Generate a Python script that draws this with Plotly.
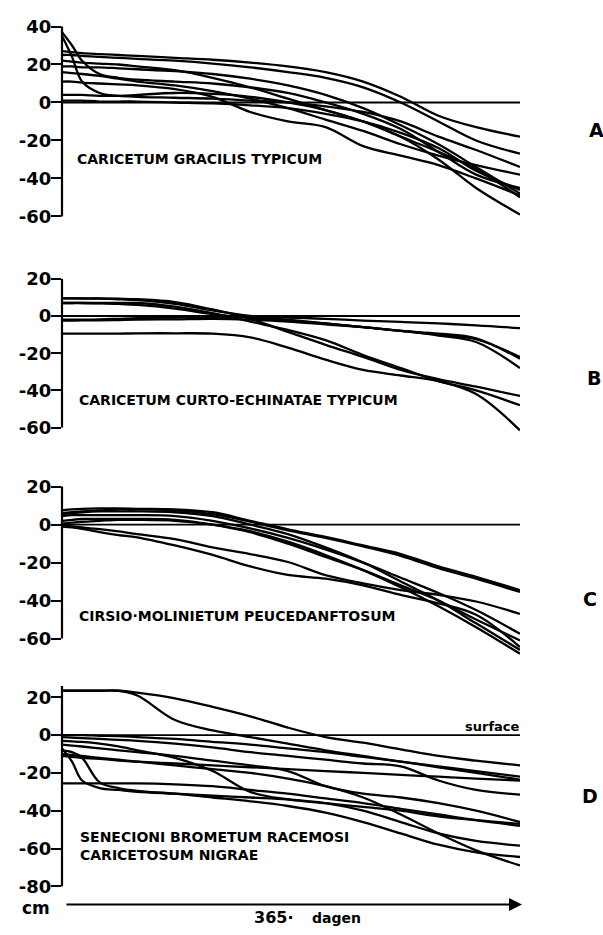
import plotly.graph_objects as go

W, H = 603, 935

# ---------------- data ----------------
DAYS = [0, 8, 16, 30, 45, 60, 90, 120, 150, 180, 210, 240, 270, 300, 330, 365]
SURFACE_X = [0, 365]
SURFACE_Y = [0, 0]

A1 = [27, 26.5, 26, 25.5, 25, 24.5, 23.5, 22.5, 21, 19, 16, 11, 3, -7, -13, -18]
A2 = [25, 25, 24.5, 24, 23.5, 23, 22, 20.5, 18.5, 16, 13, 8, 0, -10, -20, -27]
A3 = [22, 21.5, 21, 20.5, 20, 19, 17, 13, 8, 2, -4, -10, -18, -26, -35, -50]
A4 = [19, 19, 18.5, 18.5, 18, 17.5, 16.5, 15, 12.5, 9, 4, -3, -12, -22, -34, -48]
A5 = [37, 30, 22, 15, 13, 12, 11, 10, 8, 5, 0, -6, -14, -26, -38, -45]
A6 = [35, 24, 11, 5, 3.5, 4, 5, 4.5, 3, 0, -4, -10, -18, -30, -45, -59]
A7 = [16, 15.5, 15, 14, 12.5, 11, 9, 6, 2, -3, -9, -15, -22, -28, -33, -38]
A8 = [11, 11, 10.5, 10, 9.5, 9, 7, 3, -5, -10, -13, -23, -28, -33, -40, -49]
A9 = [4, 4, 4, 3.5, 3.5, 3, 2.5, 2, 1, 0, -2, -5, -10, -18, -25, -34]
A10 = [1, 1, 1, 0.5, 0.5, 0.5, 0, -0.5, -1.5, -3, -6, -10, -16, -24, -36, -46]

B1 = [9.5, 9.5, 9.5, 9.5, 9.3, 9, 7.5, 3.5, -1.5, -8.5, -15.5, -22, -29, -34, -38, -43]
B2 = [7, 7, 7, 7, 7, 7, 5, 1.5, -3, -7.5, -13, -21, -28, -35, -40, -48]
B3 = [-9.5, -9.5, -9.5, -9.5, -9.5, -9.3, -9.3, -9.5, -11.5, -17, -23.5, -29, -32, -35, -42, -61.5]
B4 = [-2, -2, -2, -1.8, -1.5, -1.2, -0.8, -0.5, -0.5, -0.8, -1.5, -2.5, -3.2, -4, -5, -6.5]
B5 = [-2.5, -2.5, -2.4, -2.3, -2.2, -2, -1.8, -1.5, -2, -3, -4.5, -6, -8, -10, -12.5, -22]
B6 = [9.5, 9.5, 9.4, 9.3, 9, 8.5, 6.5, 3, 0, -2, -4, -6, -8, -9.5, -12, -23]
B7 = [7, 7, 7, 6.8, 6.5, 6, 4, 1, -1, -2.5, -4, -6, -8, -10.5, -14, -28]

C1 = [7.5, 8, 8.3, 8.5, 8.5, 8.3, 8, 6.5, 2, -2.5, -6.5, -11, -15.5, -22, -27.5, -34.5]
C2 = [6, 6.5, 7, 7.5, 8, 8, 7.5, 5.5, 1.5, -3, -7, -11.5, -16.5, -23, -28.5, -35.5]
C3 = [4.5, 5, 5, 5, 5, 5, 4.5, 2, -2, -7, -13, -20, -28, -36, -45, -57.5]
C4 = [2, 2.5, 3, 3, 3, 3, 2.5, 0, -4, -10, -17, -24, -32, -40, -50, -61]
C5 = [5.5, 6, 6.5, 7, 7, 7, 6.5, 4.5, 0, -5, -12, -20, -30, -40, -52, -66]
C6 = [-0.5, -1, -1.5, -2.4, -3.6, -5, -7.6, -12, -15.5, -19.7, -26.6, -31, -34.5, -37, -40.5, -47]
C7 = [-1, -1.5, -2.2, -4, -5.5, -6.7, -11, -16, -22, -26.5, -28.5, -32, -37, -41.5, -47.5, -64.5]
C8 = [0.5, 1, 1.5, 2, 2.5, 2.5, 2, 0, -3.5, -9, -16, -24, -33, -43, -54, -68]

D1 = [23.5, 23.5, 23.5, 23.5, 23.5, 22.5, 19.5, 15, 10, 4, -1, -4, -7.5, -11, -13.5, -16]
D2 = [23.5, 23.5, 23.5, 23.5, 23.5, 21, 8, 2.5, -1, -4.5, -8, -11, -14, -17, -20, -23.5]
D3 = [0, 0, 0, -0.3, -0.5, -1, -2, -3.5, -5, -7, -9, -11.5, -14, -16.5, -19, -22]
D4 = [-1, -1.3, -1.6, -2, -2.5, -3, -4.5, -6.5, -9, -11, -13, -15, -16.5, -24, -29, -31.5]
D5 = [-3, -3.3, -3.6, -4.5, -6, -8, -12, -19, -30, -34, -36, -38, -40, -43, -45, -47]
D6 = [-5, -5.5, -6, -7, -8, -9, -11, -13.5, -16, -19, -27, -31, -33, -36, -40, -46]
D7 = [-7, -14, -24, -28, -29, -30, -31, -32, -33, -34, -36, -40, -46, -52, -56, -58.5]
D8 = [-8, -9, -12, -25, -28, -29.5, -31, -33, -35, -37.5, -41, -46, -52, -58, -62, -64.5]
D9 = [-10, -10.5, -11, -12, -13, -14, -16, -18, -20, -23, -27, -33, -42, -52, -61, -69]
D10 = [-25.5, -25.5, -25.5, -25.5, -25.5, -25.5, -26, -27, -29, -31, -33.5, -36, -39, -42, -45, -48]
D11 = [-11, -11.5, -12, -12.5, -13.5, -14, -15, -16, -17, -18, -19, -20, -21, -22, -23, -24]

CURVES_A = [A1, A2, A3, A4, A5, A6, A7, A8, A9, A10]
CURVES_B = [B1, B2, B3, B4, B5, B6, B7]
CURVES_C = [C1, C2, C3, C4, C5, C6, C7, C8]
CURVES_D = [D1, D2, D3, D4, D5, D6, D7, D8, D9, D10, D11]

TICKS_A = [40, 20, 0, -20, -40, -60]
TICKS_B = [20, 0, -20, -40, -60]
TICKS_C = [20, 0, -20, -40, -60]
TICKS_D = [20, 0, -20, -40, -60, -80]

LABEL_A = "CARICETUM GRACILIS TYPICUM"
LABEL_B = "CARICETUM CURTO-ECHINATAE TYPICUM"
LABEL_C = "CIRSIO·MOLINIETUM PEUCEDANFTOSUM"
LABEL_D = "SENECIONI BROMETUM RACEMOSI<br>CARICETOSUM NIGRAE"
LETTERS = ["A", "B", "C", "D"]
X_LABEL = "365·"
X_UNIT = "dagen"
Y_UNIT = "cm"
SURFACE_LABEL = "surface"

# ---------------- layout helpers ----------------
def px(x):
    return x / W


def py(y):
    return 1 - y / H


X_LEFT, X_RIGHT = 62, 520

panels = [
    dict(curves=CURVES_A, ticks=TICKS_A, y0=95, scale=1.93, rng=[-62, 41], axis=[-60, 40],
         label=LABEL_A, lab_xy=(75, 152), letter_xy=(596, 123)),
    dict(curves=CURVES_B, ticks=TICKS_B, y0=312, scale=1.89, rng=[-64, 21], axis=[-60, 20],
         label=LABEL_B, lab_xy=(77, 397), letter_xy=(594, 375)),
    dict(curves=CURVES_C, ticks=TICKS_C, y0=524, scale=1.93, rng=[-70, 21], axis=[-60, 20],
         label=LABEL_C, lab_xy=(77, 617), letter_xy=(590, 600)),
    dict(curves=CURVES_D, ticks=TICKS_D, y0=738, scale=1.92, rng=[-82, 27], axis=[-80, 26],
         label=LABEL_D, lab_xy=(78, 851), letter_xy=(590, 800)),
]

FONT = "DejaVu Sans"
fig = go.Figure()
shapes = []
annotations = []
layout = {}

for i, p in enumerate(panels, start=1):
    sfx = "" if i == 1 else str(i)
    xa, ya = "x" + sfx, "y" + sfx
    top_px = p["y0"] - p["rng"][1] * p["scale"]
    bot_px = p["y0"] - p["rng"][0] * p["scale"]
    layout["xaxis" + sfx] = dict(domain=[px(X_LEFT), px(X_RIGHT)], range=[0, 365],
                                 visible=False, anchor=ya, fixedrange=True)
    layout["yaxis" + sfx] = dict(domain=[py(bot_px), py(top_px)], range=p["rng"], anchor=xa,
                                 tickmode="array", tickvals=p["ticks"],
                                 ticktext=[str(t) for t in p["ticks"]],
                                 ticks="outside", ticklen=10, tickwidth=2, tickcolor="black",
                                 ticklabelstandoff=-4,
                                 tickfont=dict(family=FONT, size=18, color="black", weight="bold"),
                                 showgrid=False, zeroline=False, showline=False, fixedrange=True)
    # surface line
    fig.add_trace(go.Scatter(x=SURFACE_X, y=SURFACE_Y, mode="lines", xaxis=xa, yaxis=ya,
                             line=dict(color="black", width=1.8), hoverinfo="skip",
                             showlegend=False))
    for c in p["curves"]:
        fig.add_trace(go.Scatter(x=DAYS, y=c, mode="lines", xaxis=xa, yaxis=ya,
                                 line=dict(color="black", width=2.3, shape="spline", smoothing=1.0),
                                 hoverinfo="skip", showlegend=False))
    shapes.append(dict(type="line", xref=xa + " domain", yref=ya, x0=0, x1=0,
                       y0=p["axis"][0], y1=p["axis"][1], line=dict(color="black", width=2.2)))
    annotations.append(dict(text=p["label"], xref="paper", yref="paper",
                            x=px(p["lab_xy"][0]), y=py(p["lab_xy"][1]),
                            xanchor="left", yanchor="middle", align="left", showarrow=False,
                            font=dict(family=FONT, size=14, color="black", weight="bold")))
    annotations.append(dict(text=LETTERS[i - 1], xref="paper", yref="paper",
                            x=px(p["letter_xy"][0]), y=py(p["letter_xy"][1]),
                            xanchor="center", yanchor="middle", showarrow=False,
                            font=dict(family=FONT, size=19, color="black", weight="bold")))

annotations += [
    dict(text=SURFACE_LABEL, xref="paper", yref="paper", x=px(522), y=py(729),
         xanchor="right", yanchor="middle", showarrow=False,
         font=dict(family=FONT, size=13, color="black", weight="bold")),
    dict(text=Y_UNIT, xref="paper", yref="paper", x=px(36), y=py(914),
         xanchor="center", yanchor="middle", showarrow=False,
         font=dict(family=FONT, size=17, color="black", weight="bold")),
    dict(text=X_LABEL, xref="paper", yref="paper", x=px(252), y=py(923),
         xanchor="left", yanchor="middle", showarrow=False,
         font=dict(family=FONT, size=16, color="black", weight="bold")),
    dict(text=X_UNIT, xref="paper", yref="paper", x=px(310), y=py(924),
         xanchor="left", yanchor="middle", showarrow=False,
         font=dict(family=FONT, size=14, color="black", weight="bold")),
    dict(text="", xref="paper", yref="paper", axref="pixel", ayref="pixel",
         x=px(522), y=py(910), ax=-(522 - 65), ay=0, showarrow=True,
         arrowhead=2, arrowsize=1.3, arrowwidth=2, arrowcolor="black"),
]

fig.update_layout(width=W, height=H, margin=dict(l=0, r=0, t=0, b=0),
                  paper_bgcolor="white", plot_bgcolor="white",
                  shapes=shapes, annotations=annotations, showlegend=False, **layout)

fig.write_html("out.html", config={"displayModeBar": False},
               post_script="document.body.style.margin='0px';document.body.style.overflow='hidden';")
